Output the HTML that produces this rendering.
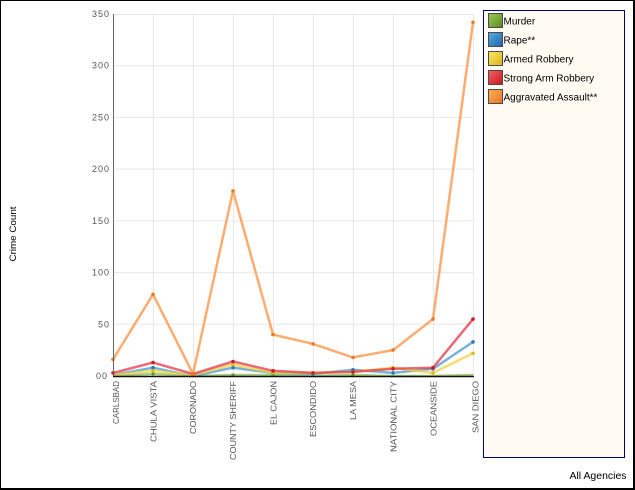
<!DOCTYPE html>
<html><head><meta charset="utf-8"><style>
html,body{margin:0;padding:0;background:#fff;}
svg{display:block;}
text{font-family:"Liberation Sans",sans-serif;}
</style></head><body>
<svg width="635" height="490" viewBox="0 0 635 490" xmlns="http://www.w3.org/2000/svg">
<defs>
<linearGradient id="gM" x1="0" y1="0" x2="1" y2="1"><stop offset="0" stop-color="#9cc858"/><stop offset="1" stop-color="#5a8a20"/></linearGradient>
<linearGradient id="gR" x1="0" y1="0" x2="1" y2="1"><stop offset="0" stop-color="#5aaae0"/><stop offset="1" stop-color="#1a68a8"/></linearGradient>
<linearGradient id="gA" x1="0" y1="0" x2="1" y2="1"><stop offset="0" stop-color="#fae868"/><stop offset="1" stop-color="#d8b418"/></linearGradient>
<linearGradient id="gS" x1="0" y1="0" x2="1" y2="1"><stop offset="0" stop-color="#f86060"/><stop offset="1" stop-color="#c41820"/></linearGradient>
<linearGradient id="gG" x1="0" y1="0" x2="1" y2="1"><stop offset="0" stop-color="#ffb060"/><stop offset="1" stop-color="#e87420"/></linearGradient>
</defs>
<rect x="0" y="0" width="635" height="490" fill="#fff"/>
<!-- gridlines -->
<g stroke="#e8e8e8" stroke-width="1">
<line x1="113" y1="14.5" x2="473" y2="14.5"/>
<line x1="113" y1="65.7" x2="473" y2="65.7"/>
<line x1="113" y1="117.4" x2="473" y2="117.4"/>
<line x1="113" y1="169.1" x2="473" y2="169.1"/>
<line x1="113" y1="220.9" x2="473" y2="220.9"/>
<line x1="113" y1="272.6" x2="473" y2="272.6"/>
<line x1="113" y1="324.3" x2="473" y2="324.3"/>
<line x1="153.5" y1="14" x2="153.5" y2="376"/>
<line x1="193.5" y1="14" x2="193.5" y2="376"/>
<line x1="233.5" y1="14" x2="233.5" y2="376"/>
<line x1="273.5" y1="14" x2="273.5" y2="376"/>
<line x1="313.5" y1="14" x2="313.5" y2="376"/>
<line x1="353.5" y1="14" x2="353.5" y2="376"/>
<line x1="393.5" y1="14" x2="393.5" y2="376"/>
<line x1="433.5" y1="14" x2="433.5" y2="376"/>
<line x1="473.5" y1="14" x2="473.5" y2="376"/>
</g>
<!-- y axis labels -->
<g font-size="9" fill="#555" text-anchor="end" letter-spacing="1">
<text x="110" y="17">350</text>
<text x="110" y="68.7">300</text>
<text x="110" y="120.4">250</text>
<text x="110" y="172.1">200</text>
<text x="110" y="223.9">150</text>
<text x="110" y="275.6">100</text>
<text x="110" y="327.3">50</text>
<text x="108" y="379">00</text>
</g>
<!-- series -->
<g fill="none" stroke-width="2.5" stroke-linejoin="round" stroke-opacity="0.75">
<polyline stroke="#88bb50" points="113,376 153,373.9 193,376 233,375 273,375 313,376 353,375 393,376 433,376 473,375"/>
<polyline stroke="#4a98d0" points="113,375 153,367.7 193,376 233,367.7 273,372.9 313,373.9 353,369.8 393,372.9 433,368.8 473,341.9"/>
<polyline stroke="#f0d040" points="113,375 153,370.8 193,375 233,364.6 273,372.9 313,372.9 353,371.9 393,367.7 433,372.9 473,353.3"/>
<polyline stroke="#e03848" points="113,372.9 153,362.6 193,373.9 233,361.5 273,370.8 313,372.9 353,371.9 393,368.8 433,367.7 473,319.1"/>
<polyline stroke="#ff9040" points="113,359.5 153,294.3 193,373.9 233,190.9 273,334.6 313,343.9 353,357.4 393,350.1 433,319.1 473,22.3"/>
</g>
<g>
<g fill="#5a9a28"><circle cx="153" cy="373.9" r="1.6"/><circle cx="233" cy="375" r="1.6"/><circle cx="273" cy="375" r="1.6"/><circle cx="353" cy="375" r="1.6"/></g>
<g fill="#2a7ab8"><circle cx="153" cy="367.7" r="1.8"/><circle cx="233" cy="367.7" r="1.8"/><circle cx="273" cy="372.9" r="1.8"/><circle cx="313" cy="373.9" r="1.8"/><circle cx="353" cy="369.8" r="1.8"/><circle cx="393" cy="372.9" r="1.8"/><circle cx="433" cy="368.8" r="1.8"/><circle cx="473" cy="341.9" r="1.8"/></g>
<g fill="#e0b820"><circle cx="153" cy="370.8" r="1.8"/><circle cx="233" cy="364.6" r="1.8"/><circle cx="273" cy="372.9" r="1.8"/><circle cx="313" cy="372.9" r="1.8"/><circle cx="353" cy="371.9" r="1.8"/><circle cx="393" cy="367.7" r="1.8"/><circle cx="433" cy="372.9" r="1.8"/><circle cx="473" cy="353.3" r="1.8"/></g>
<g fill="#d01828"><circle cx="113" cy="372.9" r="1.8"/><circle cx="153" cy="362.6" r="1.8"/><circle cx="193" cy="373.9" r="1.8"/><circle cx="233" cy="361.5" r="1.8"/><circle cx="273" cy="370.8" r="1.8"/><circle cx="313" cy="372.9" r="1.8"/><circle cx="353" cy="371.9" r="1.8"/><circle cx="393" cy="368.8" r="1.8"/><circle cx="433" cy="367.7" r="1.8"/><circle cx="473" cy="319.1" r="1.8"/></g>
<g fill="#f07820"><circle cx="113" cy="359.5" r="1.8"/><circle cx="153" cy="294.3" r="1.8"/><circle cx="193" cy="373.9" r="1.8"/><circle cx="233" cy="190.9" r="1.8"/><circle cx="273" cy="334.6" r="1.8"/><circle cx="313" cy="343.9" r="1.8"/><circle cx="353" cy="357.4" r="1.8"/><circle cx="393" cy="350.1" r="1.8"/><circle cx="433" cy="319.1" r="1.8"/><circle cx="473" cy="22.3" r="1.8"/></g>
</g>
<!-- axes -->
<line x1="113.5" y1="14" x2="113.5" y2="377" stroke="#666" stroke-width="1"/>
<line x1="113" y1="376.5" x2="474" y2="376.5" stroke="#111" stroke-width="1.6"/>
<!-- x labels -->
<g font-size="8.5" fill="#555">
<text transform="translate(119,381) rotate(-90)" text-anchor="end" textLength="43" lengthAdjust="spacingAndGlyphs">CARLSBAD</text>
<text transform="translate(156.5,381) rotate(-90)" text-anchor="end" textLength="61" lengthAdjust="spacingAndGlyphs">CHULA VISTA</text>
<text transform="translate(196,381) rotate(-90)" text-anchor="end" textLength="53" lengthAdjust="spacingAndGlyphs">CORONADO</text>
<text transform="translate(236,381) rotate(-90)" text-anchor="end" textLength="79" lengthAdjust="spacingAndGlyphs">COUNTY SHERIFF</text>
<text transform="translate(276.5,381) rotate(-90)" text-anchor="end" textLength="44" lengthAdjust="spacingAndGlyphs">EL CAJON</text>
<text transform="translate(316,381) rotate(-90)" text-anchor="end" textLength="56" lengthAdjust="spacingAndGlyphs">ESCONDIDO</text>
<text transform="translate(356,381) rotate(-90)" text-anchor="end" textLength="39" lengthAdjust="spacingAndGlyphs">LA MESA</text>
<text transform="translate(396.5,381) rotate(-90)" text-anchor="end" textLength="71" lengthAdjust="spacingAndGlyphs">NATIONAL CITY</text>
<text transform="translate(436.5,381) rotate(-90)" text-anchor="end" textLength="55" lengthAdjust="spacingAndGlyphs">OCEANSIDE</text>
<text transform="translate(478.5,381) rotate(-90)" text-anchor="end" textLength="52" lengthAdjust="spacingAndGlyphs">SAN DIEGO</text>
</g>
<!-- y title -->
<text transform="translate(16,234) rotate(-90)" text-anchor="middle" font-size="9" fill="#000" textLength="55" lengthAdjust="spacingAndGlyphs">Crime Count</text>
<!-- legend -->
<rect x="483.5" y="10.5" width="141" height="447" fill="#fffaf2" stroke="#000080" stroke-width="1"/>
<g stroke="#4a4a4a" stroke-width="1">
<rect x="488.5" y="13.5" width="14" height="14" fill="url(#gM)"/>
<rect x="488.5" y="32.5" width="14" height="14" fill="url(#gR)"/>
<rect x="488.5" y="51.5" width="14" height="14" fill="url(#gA)"/>
<rect x="488.5" y="70.5" width="14" height="14" fill="url(#gS)"/>
<rect x="488.5" y="89.5" width="14" height="14" fill="url(#gG)"/>
</g>
<g font-size="10" fill="#000">
<text x="503.5" y="24.5">Murder</text>
<text x="503.5" y="43.5">Rape**</text>
<text x="503.5" y="62.5">Armed Robbery</text>
<text x="503.5" y="81.5">Strong Arm Robbery</text>
<text x="503.5" y="100.5">Aggravated Assault**</text>
</g>
<text x="569.5" y="479" font-size="10" fill="#000" textLength="57" lengthAdjust="spacingAndGlyphs">All Agencies</text>
<!-- outer border -->
<line x1="0" y1="0.5" x2="635" y2="0.5" stroke="#000" stroke-width="1"/>
<line x1="0.5" y1="0" x2="0.5" y2="490" stroke="#000" stroke-width="1"/>
<line x1="634" y1="0" x2="634" y2="490" stroke="#000" stroke-width="2"/>
<line x1="0" y1="489" x2="635" y2="489" stroke="#000" stroke-width="2"/>
</svg>
</body></html>
